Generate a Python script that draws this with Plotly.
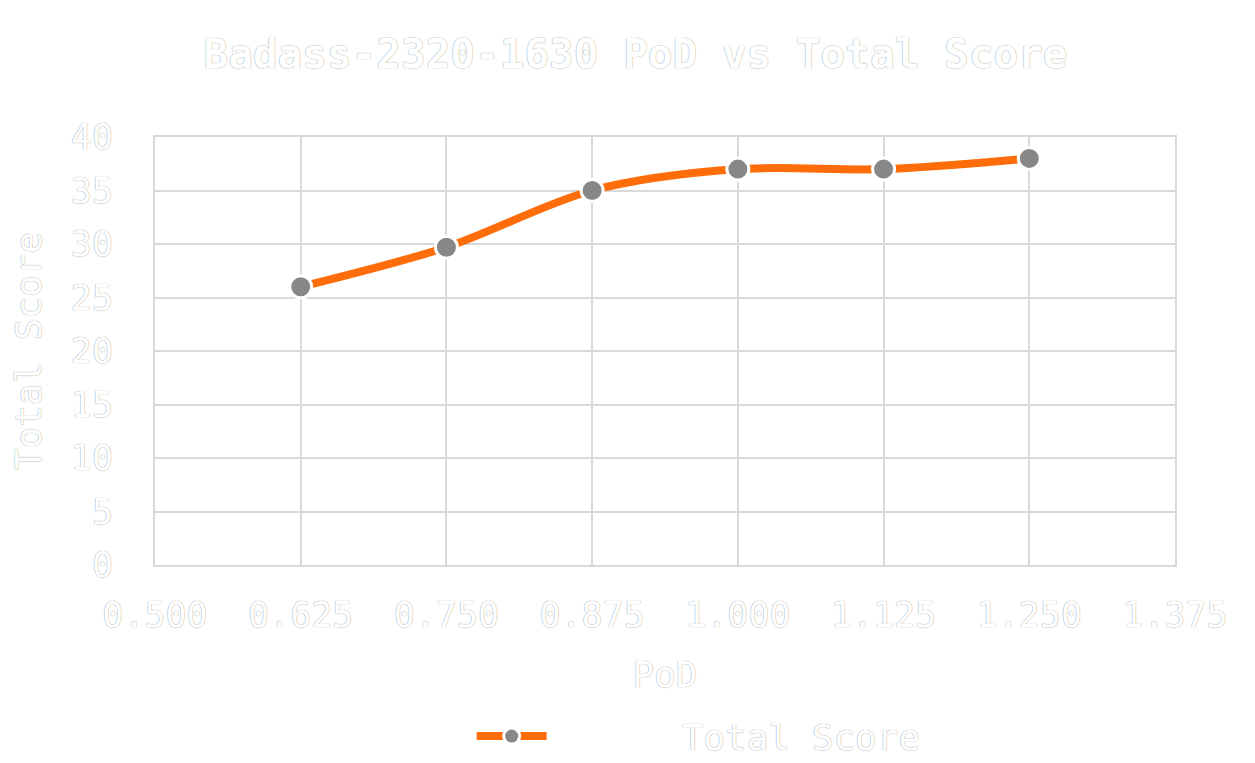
import plotly.graph_objects as go

# values
pod = [0.625, 0.750, 0.875, 1.000, 1.125, 1.250]
total_score = [26, 29.7, 35, 37, 37, 38]

x_ticks = [0.5, 0.625, 0.75, 0.875, 1.0, 1.125, 1.25, 1.375]
y_ticks = [0, 5, 10, 15, 20, 25, 30, 35, 40]

outline = "0 0 1px #777777"
mono = "DejaVu Sans Mono, monospace"
grid = "#d9d9d9"

fig = go.Figure()
fig.add_trace(
    go.Scatter(
        x=pod,
        y=total_score,
        mode="lines+markers",
        name="      Total Score",
        line=dict(color="#ff6d0a", width=8, shape="spline", smoothing=0.9),
        marker=dict(size=22, color="#878787", line=dict(color="white", width=3)),
    )
)

fig.update_layout(
    width=1255,
    height=763,
    paper_bgcolor="white",
    plot_bgcolor="white",
    margin=dict(l=147, r=88, t=129, b=206, autoexpand=False),
    font=dict(family=mono, size=35, color="white", shadow=outline),
    title=dict(
        text="Badass-2320-1630 PoD vs Total Score",
        x=0.5,
        xanchor="center",
        y=0.94,
        yanchor="middle",
        font=dict(family=mono, size=41, color="white", weight="bold", shadow=outline),
    ),
    showlegend=True,
    legend=dict(
        orientation="h",
        x=0.533,
        xanchor="center",
        y=-0.40,
        yanchor="middle",
        itemwidth=70,
        font=dict(family=mono, size=36, color="white", shadow=outline),
    ),
)

fig.update_xaxes(
    range=[0.5, 1.375],
    tickvals=x_ticks,
    tickformat=".3f",
    showgrid=True,
    gridcolor=grid,
    gridwidth=2,
    showline=True,
    linecolor=grid,
    linewidth=2,
    mirror=True,
    zeroline=False,
    automargin=False,
    ticklabelstandoff=18,
    title=dict(text="PoD", standoff=28, font=dict(family=mono, size=36, color="white", shadow=outline)),
)
fig.update_yaxes(
    range=[0, 40],
    tickvals=y_ticks,
    showgrid=True,
    gridcolor=grid,
    gridwidth=2,
    showline=True,
    linecolor=grid,
    linewidth=2,
    mirror=True,
    zeroline=False,
    automargin=False,
    ticklabelstandoff=33,
    title=dict(text="Total Score", standoff=35, font=dict(family=mono, size=36, color="white", shadow=outline)),
)

fig.write_html("out.html")
